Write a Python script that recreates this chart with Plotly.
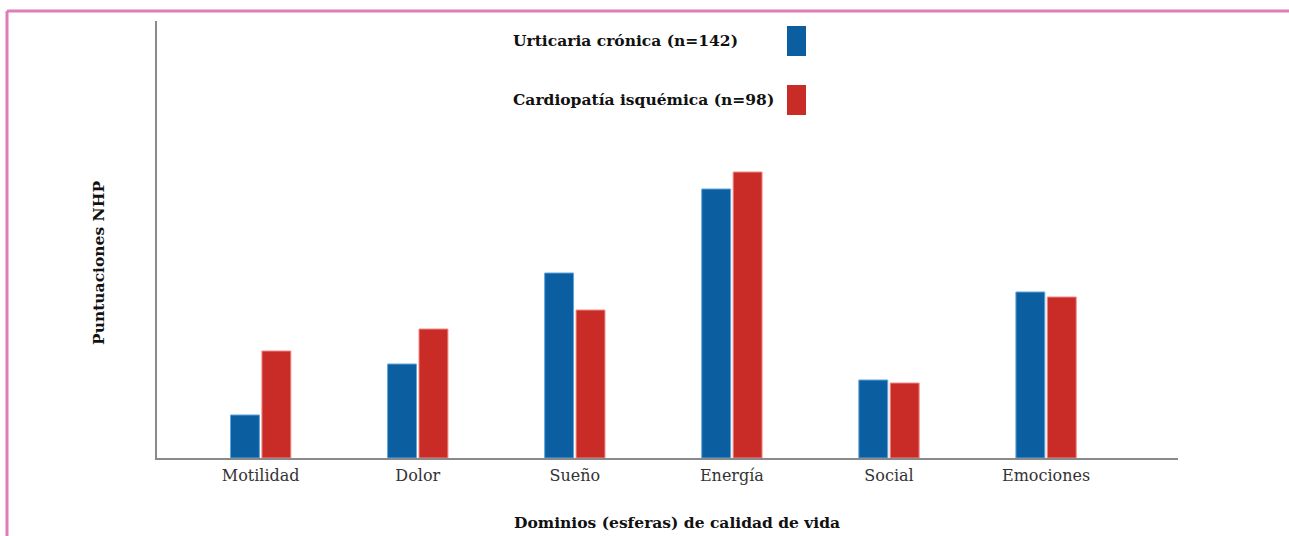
import plotly.graph_objects as go

categories = ["Motilidad", "Dolor", "Sueño", "Energía", "Social", "Emociones"]
series_names = ["Urticaria crónica (n=142)", "Cardiopatía isquémica (n=98)"]
urticaria = [8.6, 18.8, 37.0, 53.8, 15.6, 33.2]
cardiopatia = [21.4, 25.8, 29.6, 57.2, 15.0, 32.2]
colors = ["#0b5e9f", "#c92c26"]
edge_colors = ["#5fa6dc", "#f08a84"]

W, H = 1289, 536
L, R, T, B = 157, 111, 21, 78
pw, ph = W - L - R, H - T - B

def px_x(px):
    return (px - L) / pw

def px_y(py):
    return (H - B - py) / ph

fig = go.Figure()
for name, vals, c, ec in zip(series_names, [urticaria, cardiopatia], colors, edge_colors):
    fig.add_trace(go.Bar(x=categories, y=vals, name=name,
                         marker=dict(color=c, line=dict(color=ec, width=1))))

serif = "DejaVu Serif"
fig.update_layout(
    width=W, height=H,
    margin=dict(l=L, r=R, t=T, b=B),
    paper_bgcolor="white", plot_bgcolor="white",
    barmode="group", bargap=0.6, bargroupgap=0.08,
    showlegend=False,
    font=dict(family=serif, color="#222222"),
    xaxis=dict(range=[-0.66, 5.84], showline=True, linecolor="#8a8a8a", linewidth=2,
               ticks="outside", ticklen=2, tickcolor="rgba(0,0,0,0)",
               showgrid=False, zeroline=False,
               tickfont=dict(family=serif, size=16, color="#333333")),
    yaxis=dict(range=[0, 87.4], showline=True, linecolor="#8a8a8a", linewidth=2,
               ticks="", showticklabels=False, showgrid=False, zeroline=False),
)

bold_size = 15.5
# axis titles
fig.add_annotation(text="<b>Dominios (esferas) de calidad de vida</b>", xref="paper", yref="paper",
                   x=px_x(677), y=px_y(522), showarrow=False, xanchor="center", yanchor="middle",
                   font=dict(family=serif, size=bold_size, color="#111111"))
fig.add_annotation(text="<b>Puntuaciones NHP</b>", xref="paper", yref="paper",
                   x=px_x(98), y=px_y(263), showarrow=False, textangle=-90,
                   xanchor="center", yanchor="middle",
                   font=dict(family=serif, size=bold_size, color="#111111"))

# custom legend: text on left, swatch on right
leg_y = [41, 100]
for name, c, yy in zip(series_names, colors, leg_y):
    fig.add_annotation(text="<b>" + name + "</b>", xref="paper", yref="paper",
                       x=px_x(511), y=px_y(yy), showarrow=False, xanchor="left", yanchor="middle",
                       font=dict(family=serif, size=bold_size, color="#111111"))
    fig.add_shape(type="rect", xref="paper", yref="paper",
                  x0=px_x(787), x1=px_x(806), y0=px_y(yy + 15), y1=px_y(yy - 15),
                  fillcolor=c, line=dict(width=0))

# pink frame (top and left)
pink = "#e07cb8"
fig.add_shape(type="line", xref="paper", yref="paper",
              x0=px_x(7), x1=px_x(W), y0=px_y(11), y1=px_y(11), line=dict(color=pink, width=3))
fig.add_shape(type="line", xref="paper", yref="paper",
              x0=px_x(7), x1=px_x(7), y0=px_y(11), y1=px_y(H), line=dict(color=pink, width=3))

fig.write_html("out.html", config={"displayModeBar": False},
               post_script="document.body.style.margin='0';document.body.style.overflow='hidden';")
